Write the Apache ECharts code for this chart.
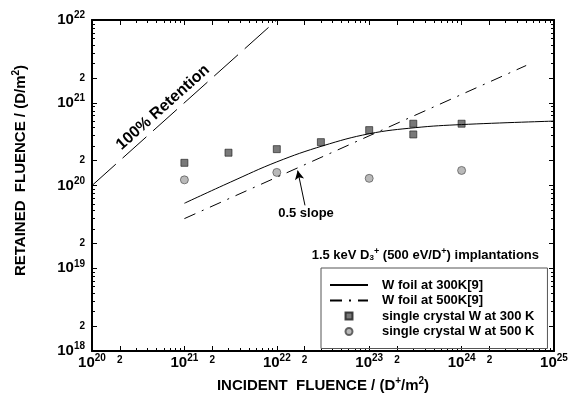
<!DOCTYPE html>
<html>
<head>
<meta charset="utf-8">
<script src="https://cdn.jsdelivr.net/npm/echarts@6/dist/echarts.min.js"></script>
<style>
  html, body { margin: 0; padding: 0; background: #fff; }
  #chart { width: 574px; height: 398px; }
</style>
</head>
<body>
<div id="chart"></div>
<script>
// Data (incident fluence, retained fluence) in D/m^2
const retentionIncident = [1e20, 1e22];
const retentionRetained = [1e20, 1e22];

const foil300Incident = [1e21, 3.16e21, 1e22, 3.16e22, 1e23, 3.16e23, 1e24, 1e25];
const foil300Retained = [6.1e19, 1.1e20, 1.93e20, 3.02e20, 4.22e20, 5.0e20, 5.45e20, 6.0e20];

const foil500Incident = [1e21, 5e24];
const foil500Retained = [3.98e19, 2.82e21];

const crystal300Incident = [1e21, 3e21, 1e22, 3e22, 1e23, 3e23, 3e23, 1e24];
const crystal300Retained = [1.88e20, 2.49e20, 2.75e20, 3.34e20, 4.67e20, 5.58e20, 4.14e20, 5.58e20];

const crystal500Incident = [1e21, 1e22, 1e23, 1e24];
const crystal500Retained = [1.17e20, 1.44e20, 1.22e20, 1.52e20];

// axis decades (log10)
const xDecades = [20, 21, 22, 23, 24, 25];
const yDecades = [18, 19, 20, 21, 22];

const FONT = "'Liberation Sans', Arial, sans-serif";
const lg = Math.log10;

function pairs(xs, ys) {
    return xs.map((x, i) => [lg(x), lg(ys[i])]);
}
function majorTicks(decs) {
    const out = [];
    decs.forEach((d, i) => {
        out.push(d);
        if (i < decs.length - 1) out.push(d + lg(2));
    });
    return out;
}
function minorTicks(decs) {
    const out = [];
    decs.slice(0, -1).forEach((d) => {
        for (let k = 3; k <= 9; k++) out.push(d + lg(k));
    });
    return out;
}
function tickLabel(v) {
    const d = Math.round(v);
    if (Math.abs(v - d) < 1e-6) return "{b|10}{s|" + d + "}";
    return "{t|2}";
}
const labelRich = {
    b: { fontFamily: FONT, fontWeight: "bold", fontSize: 15, lineHeight: 15, verticalAlign: "bottom", color: "#000" },
    s: { fontFamily: FONT, fontWeight: "bold", fontSize: 10, lineHeight: 10, verticalAlign: "bottom", padding: [0, 0, 7, 0], color: "#000" },
    t: { fontFamily: FONT, fontWeight: "bold", fontSize: 10, lineHeight: 10, color: "#000" },
};
const nameRich = {
    n: { fontFamily: FONT, fontWeight: "bold", fontSize: 15, lineHeight: 16, verticalAlign: "bottom", color: "#000" },
    sp: { fontFamily: FONT, fontWeight: "bold", fontSize: 10, lineHeight: 10, verticalAlign: "bottom", padding: [0, 0, 7, 0], color: "#000" },
};

function makeAxes(decs, isX) {
    const min = decs[0], max = decs[decs.length - 1];
    const sides = isX ? ["bottom", "top"] : ["left", "right"];
    const axes = [];
    sides.forEach((pos, si) => {
        const main = {
            type: "value", min: min, max: max, position: pos,
            axisLine: { show: true, lineStyle: { color: "#000", width: 2 } },
            axisTick: { show: true, inside: true, length: 5, customValues: majorTicks(decs), lineStyle: { color: "#000", width: 1 } },
            axisLabel: { show: false },
            splitLine: { show: false },
        };
        if (si === 0) {
            main.axisLabel = {
                show: true, customValues: majorTicks(decs), formatter: tickLabel, rich: labelRich,
                margin: isX ? 4 : 7, showMinLabel: true, showMaxLabel: true,
            };
            main.nameLocation = "middle";
            if (isX) {
                main.name = "{n|INCIDENT  FLUENCE / (D}{sp|+}{n|/m}{sp|2}{n|)}";
                main.nameGap = 26;
                main.nameTextStyle = { rich: nameRich };
            } else {
                main.name = "{n|RETAINED  FLUENCE / (D/m}{sp|2}{n|)}";
                main.nameGap = 64;
                main.nameTextStyle = { rich: nameRich, padding: [0, 0, 0, 30] };
            }
        }
        axes.push(main);
        axes.push({
            type: "value", min: min, max: max, position: pos,
            axisLine: { show: false },
            axisTick: { show: true, inside: true, length: 3, customValues: minorTicks(decs), lineStyle: { color: "#000", width: 1 } },
            axisLabel: { show: false },
            splitLine: { show: false },
        });
    });
    return axes;
}

const chart = echarts.init(document.getElementById("chart"));
chart.setOption({
    animation: false,
    backgroundColor: "#fff",
    grid: { left: 92, right: 20, top: 20, bottom: 47 },
    xAxis: makeAxes(xDecades, true),
    yAxis: makeAxes(yDecades, false),
    legend: {
        orient: "vertical", left: 321, top: 268,
        padding: [10, 13, 10, 8],
        itemWidth: 38, itemHeight: 7, itemGap: 1.5,
        symbolKeepAspect: true,
        borderColor: "#555", borderWidth: 1,
        textStyle: { fontFamily: FONT, fontWeight: "bold", fontSize: 13, lineHeight: 14, color: "#000", padding: [0, 0, 0, 9] },
        data: [
            { name: "W foil at 300K[9]" },
            { name: "W foil at 500K[9]" },
            { name: "single crystal W at 300 K", icon: "path://M0,0L10,0L10,10L0,10Z" },
            { name: "single crystal W at 500 K", icon: "circle" },
        ],
    },
    series: [
        {
            name: "100% Retention", type: "line", symbol: "none",
            data: pairs(retentionIncident, retentionRetained),
            lineStyle: { color: "#000", width: 1, type: [32, 9] },
        },
        {
            name: "W foil at 300K[9]", type: "line", symbol: "none", smooth: 0.4,
            data: pairs(foil300Incident, foil300Retained),
            lineStyle: { color: "#000", width: 1 },
            itemStyle: { color: "transparent", borderWidth: 0 },
        },
        {
            name: "W foil at 500K[9]", type: "line", symbol: "none",
            data: pairs(foil500Incident, foil500Retained),
            lineStyle: { color: "#000", width: 1, type: [12, 7, 2, 7] },
            itemStyle: { color: "transparent", borderWidth: 0 },
            markLine: {
                silent: true, symbol: ["none", "arrow"], symbolSize: [7, 9],
                lineStyle: { color: "#000", width: 1, type: "solid" },
                label: { show: false },
                data: [[{ coord: [22.305, 19.76] }, { coord: [22.226, 20.18] }]],
            },
        },
        {
            name: "single crystal W at 300 K", type: "scatter", symbol: "rect", symbolSize: 7,
            data: pairs(crystal300Incident, crystal300Retained),
            itemStyle: { color: "#585858", borderColor: "#1a1a1a", borderWidth: 0.8 },
        },
        {
            name: "single crystal W at 500 K", type: "scatter", symbol: "circle", symbolSize: 8,
            data: pairs(crystal500Incident, crystal500Retained),
            itemStyle: { color: "#a8a8a8", borderColor: "#444", borderWidth: 0.8 },
        },
    ],
});

// annotations placed in data coordinates
const px = (p) => chart.convertToPixel({ gridIndex: 0 }, p);
const retPt = px([20.768, 20.768]);
const slopePt = px([22.316, 19.663]);
const implPt = px([24.838, 19.168]);
const retPt2 = px([21.768, 21.768]);
const angle = Math.atan2(retPt[1] - retPt2[1], retPt2[0] - retPt[0]);
chart.setOption({
    graphic: [
        {
            type: "text", x: retPt[0], y: retPt[1] - 14.5, rotation: angle,
            style: { text: "100% Retention", font: "bold 16px " + FONT, fill: "#000", align: "center", verticalAlign: "middle" },
        },
        {
            type: "text", x: slopePt[0], y: slopePt[1],
            style: { text: "0.5 slope", font: "bold 13px " + FONT, fill: "#000", align: "center", verticalAlign: "middle" },
        },
        {
            type: "text", x: implPt[0], y: implPt[1],
            style: {
                text: "{n|1.5 keV D}{sb|3}{sp|+}{n| (500 eV/D}{sp|+}{n|) implantations}",
                align: "right", verticalAlign: "middle",
                rich: {
                    n: { font: "bold 13px " + FONT, fill: "#000", lineHeight: 15, verticalAlign: "bottom" },
                    sb: { font: "bold 8px " + FONT, fill: "#000", lineHeight: 8, verticalAlign: "bottom" },
                    sp: { font: "bold 9px " + FONT, fill: "#000", lineHeight: 9, verticalAlign: "bottom", padding: [0, 0, 6, 0] },
                },
            },
        },
    ],
});
</script>
</body>
</html>
